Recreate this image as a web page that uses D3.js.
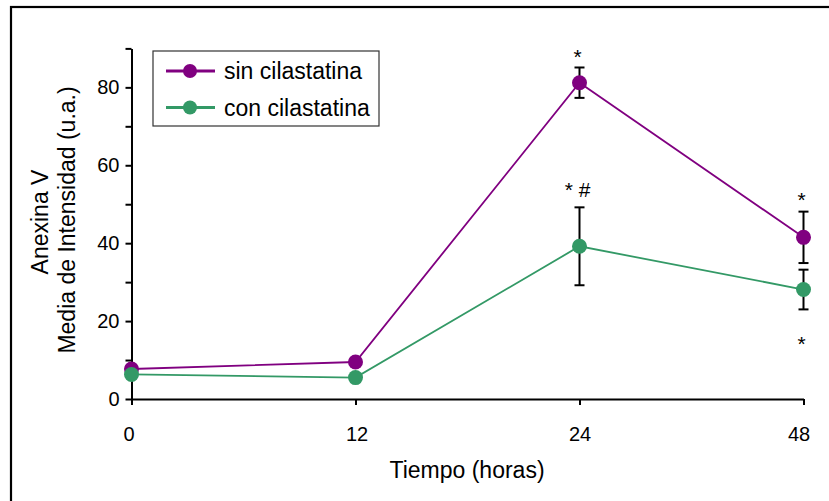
<!DOCTYPE html>
<html>
<head>
<meta charset="utf-8">
<script src="https://cdn.jsdelivr.net/npm/d3@7"></script>
<style>
  html, body { margin: 0; padding: 0; background: #fff; }
  svg { display: block; font-family: "Liberation Sans", Arial, sans-serif; }
</style>
</head>
<body>
<svg id="chart" width="829" height="501"></svg>
<script>
// Time points (hours) shown as evenly spaced categories
const timepoints = ["0", "12", "24", "48"];

// Annexin V mean intensity (a.u.)
const sinValues = [7.7, 9.5, 81.2, 41.5];
const sinErrors = [null, null, 3.9, 6.6];
const conValues = [6.3, 5.5, 39.2, 28.1];
const conErrors = [null, null, 10.0, 5.1];

const seriesNames = ["sin cilastatina", "con cilastatina"];
const seriesColors = ["#800080", "#339966"];

// y tick values: every 10, labelled every 20
const yTicks = [0, 10, 20, 30, 40, 50, 60, 70, 80, 90];

// Significance marks: category, anchor value (a.u.), label
const marks = [
  { t: "24", v: 86.0, label: "*" },
  { t: "24", v: 51.8, label: "* #" },
  { t: "48", v: 49.3, label: "*" },
  { t: "48", v: 12.3, label: "*" }
];

const svg = d3.select("#chart");

// Outer frame (top and left edges visible)
svg.append("rect")
  .attr("x", 11).attr("y", 7)
  .attr("width", 900).attr("height", 600)
  .attr("fill", "none").attr("stroke", "#000").attr("stroke-width", 2.2);

const x = d3.scalePoint().domain(timepoints).range([131.5, 803.5]);
const y = d3.scaleLinear().domain([0, 90]).range([399, 48.4]);

// Axes
const yAxis = d3.axisLeft(y)
  .tickValues(yTicks)
  .tickFormat(d => d % 20 === 0 ? d : "")
  .tickSize(6).tickSizeOuter(0).tickPadding(6);
const gy = svg.append("g").attr("transform", "translate(131.5,0)").call(yAxis);

const xAxis = d3.axisBottom(x).tickSize(6).tickSizeOuter(0).tickPadding(22);
const gx = svg.append("g").attr("transform", "translate(0,399)").call(xAxis);

[gx, gy].forEach(g => {
  g.selectAll("path, line").attr("stroke", "#000").attr("stroke-width", 2);
  g.selectAll("text").attr("fill", "#000").attr("font-size", 20)
    .attr("font-family", "Liberation Sans, Arial, sans-serif");
});
gx.selectAll(".tick text").attr("dx", (d, i) => [-3, 1, 0, -5][i]);

// Axis titles
svg.append("text")
  .attr("x", 467).attr("y", 478)
  .attr("text-anchor", "middle").attr("font-size", 23)
  .text("Tiempo (horas)");

svg.append("text")
  .attr("transform", "translate(40,222) rotate(-90)")
  .attr("text-anchor", "middle").attr("dominant-baseline", "central")
  .attr("font-size", 23)
  .text("Anexina V");
svg.append("text")
  .attr("transform", "translate(67,220) rotate(-90)")
  .attr("text-anchor", "middle").attr("dominant-baseline", "central")
  .attr("font-size", 23)
  .text("Media de Intensidad (u.a.)");

// Series
const series = [
  { name: seriesNames[0], color: seriesColors[0], values: sinValues, errors: sinErrors },
  { name: seriesNames[1], color: seriesColors[1], values: conValues, errors: conErrors }
];

const line = d3.line().x(d => x(d.t)).y(d => y(d.v));

series.forEach(s => {
  const pts = timepoints.map((t, i) => ({ t, v: s.values[i], e: s.errors[i] }));
  const g = svg.append("g");
  g.append("path")
    .datum(pts)
    .attr("d", line)
    .attr("fill", "none").attr("stroke", s.color).attr("stroke-width", 1.8);

  const eb = g.selectAll(".err").data(pts.filter(p => p.e != null)).enter().append("g");
  eb.append("line")
    .attr("x1", d => x(d.t)).attr("x2", d => x(d.t))
    .attr("y1", d => y(d.v + d.e)).attr("y2", d => y(d.v - d.e))
    .attr("stroke", "#000").attr("stroke-width", 2);
  [1, -1].forEach(sign => {
    eb.append("line")
      .attr("x1", d => x(d.t) - 5).attr("x2", d => x(d.t) + 5)
      .attr("y1", d => y(d.v + sign * d.e)).attr("y2", d => y(d.v + sign * d.e))
      .attr("stroke", "#000").attr("stroke-width", 2);
  });

  g.selectAll("circle").data(pts).enter().append("circle")
    .attr("cx", d => x(d.t)).attr("cy", d => y(d.v))
    .attr("r", 7.5).attr("fill", s.color);
});

// Significance labels
svg.selectAll(".mark").data(marks).enter().append("text")
  .attr("x", d => x(d.t) - 2).attr("y", d => y(d.v))
  .attr("text-anchor", "middle").attr("font-size", 21)
  .text(d => d.label);

// Legend
const lg = svg.append("g");
lg.append("rect")
  .attr("x", 153).attr("y", 51).attr("width", 226).attr("height", 75)
  .attr("fill", "#fff").attr("stroke", "#333").attr("stroke-width", 1.2);
series.forEach((s, i) => {
  const cy = 71 + i * 36.5;
  lg.append("line").attr("x1", 166).attr("x2", 215).attr("y1", cy).attr("y2", cy)
    .attr("stroke", s.color).attr("stroke-width", 3);
  lg.append("circle").attr("cx", 190).attr("cy", cy).attr("r", 7).attr("fill", s.color);
  lg.append("text").attr("x", 224).attr("y", cy)
    .attr("dominant-baseline", "central").attr("font-size", 23)
    .text(s.name);
});
</script>
</body>
</html>
